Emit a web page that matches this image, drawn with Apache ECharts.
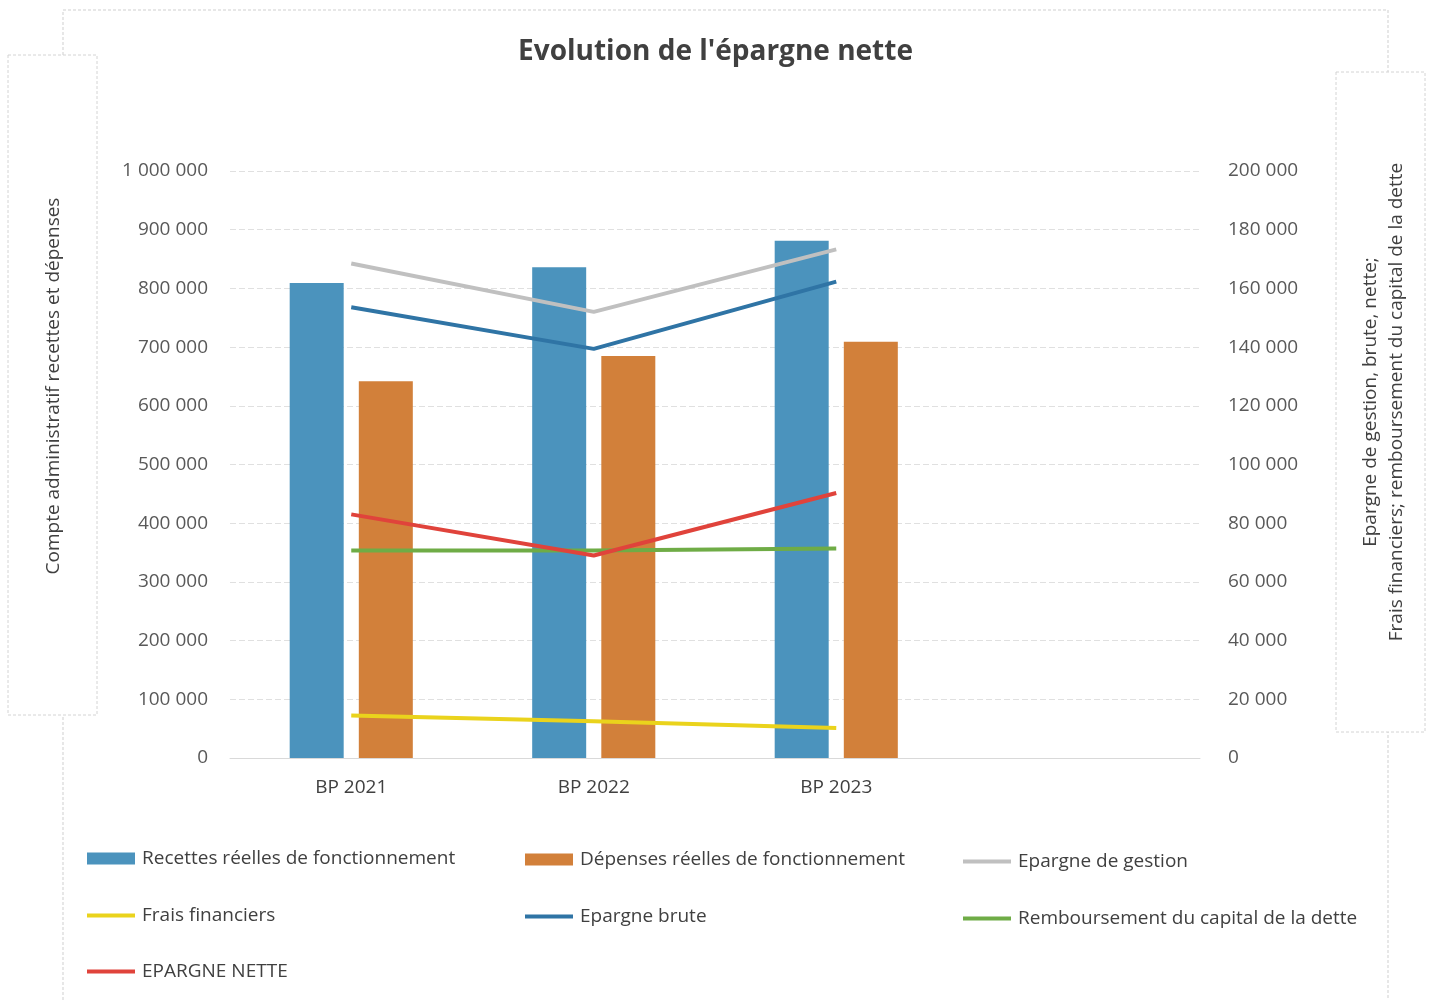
<!DOCTYPE html>
<html>
<head>
<meta charset="utf-8">
<script src="https://cdn.jsdelivr.net/npm/echarts@6/dist/echarts.min.js"></script>
<style>
html, body { margin: 0; padding: 0; background: #fff; }
#chart { width: 1431px; height: 1000px; }
</style>
</head>
<body>
<div id="chart"></div>
<script>
// catégories (la 4e reste vide, comme dans le graphique d'origine)
const categories = ['BP 2021', 'BP 2022', 'BP 2023', '']

// axe de gauche
const recettes = [809000, 836000, 881000]
const depenses = [642000, 685000, 709000]

// axe de droite
const epargneGestion = [168500, 152000, 173300]
const fraisFinanciers = [14500, 12500, 10200]
const epargneBrute = [153600, 139400, 162300]
const remboursement = [70700, 70700, 71400]
const epargneNette = [83000, 69000, 90300]

const fontFamily = '"Open Sans", "Noto Sans", sans-serif'
const txt = '#404040'

let chart = echarts.init(document.getElementById('chart'))

function fmt(v) {
    return String(v).replace(/\B(?=(\d{3})+(?!\d))/g, ' ')
}

function lineSerie(name, data, color) {
    return {
        name: name,
        type: 'line',
        yAxisIndex: 1,
        data: data,
        symbol: 'none',
        lineStyle: { color: color, width: 4 },
        itemStyle: { color: color }
    }
}

// une légende par entrée, pour placer chaque case comme dans l'original
function legendItem(name, left, top, isBar) {
    return {
        left: left,
        top: top,
        icon: 'rect',
        itemWidth: 48,
        itemHeight: isBar ? 12 : 4,
        textStyle: { color: txt, fontSize: 19, fontFamily: fontFamily, padding: [0, 0, 0, 2] },
        data: [name]
    }
}

let option = {
    animation: false,
    backgroundColor: '#fff',
    title: {
        text: "Evolution de l'épargne nette",
        left: 'center',
        top: 33,
        textStyle: { color: txt, fontSize: 28, fontWeight: 'bold', fontFamily: fontFamily }
    },
    graphic: [
        { type: 'rect', z: -10, shape: { x: 63, y: 10, width: 1325, height: 1000 },
          style: { fill: '#fff', stroke: '#cfcfcf', lineWidth: 1, lineDash: [3, 2] } },
        { type: 'rect', z: -9, shape: { x: 8, y: 55, width: 89, height: 660 },
          style: { fill: '#fff', stroke: '#d4d4d4', lineWidth: 1, lineDash: [3, 2] } },
        { type: 'rect', z: -9, shape: { x: 1336, y: 72, width: 89, height: 660 },
          style: { fill: '#fff', stroke: '#d4d4d4', lineWidth: 1, lineDash: [3, 2] } },
        { type: 'text', x: 54, y: 386, rotation: Math.PI / 2,
          style: { text: 'Compte administratif recettes et dépenses', fill: txt, fontSize: 19,
                   fontFamily: fontFamily, align: 'center', verticalAlign: 'middle' } },
        { type: 'text', x: 1384, y: 402, rotation: Math.PI / 2,
          style: { text: 'Epargne de gestion, brute, nette;\nFrais financiers; remboursement du capital de la dette',
                   fill: txt, fontSize: 19, lineHeight: 26, fontFamily: fontFamily, align: 'center', verticalAlign: 'middle' } }
    ],
    legend: [
        legendItem('Recettes réelles de fonctionnement', 82, 844, true),
        legendItem('Frais financiers', 82, 901, false),
        legendItem('EPARGNE NETTE', 82, 957, false),
        legendItem('Dépenses réelles de fonctionnement', 520, 845, true),
        legendItem('Epargne brute', 520, 902, false),
        legendItem('Epargne de gestion', 958, 847, false),
        legendItem('Remboursement du capital de la dette', 958, 904, false)
    ],
    grid: { left: 230, right: 231, top: 171, bottom: 242 },
    xAxis: {
        type: 'category',
        data: categories,
        axisTick: { show: false },
        axisLine: { lineStyle: { color: '#d9d9d9' } },
        axisLabel: { color: txt, fontSize: 19, fontFamily: fontFamily, margin: 20 }
    },
    yAxis: [
        {
            type: 'value',
            min: 0,
            max: 1000000,
            interval: 100000,
            axisLabel: { color: '#595959', fontSize: 19, fontFamily: fontFamily, margin: 22, formatter: fmt },
            axisLine: { show: false },
            axisTick: { show: false },
            splitLine: { lineStyle: { color: '#e0e0e0', type: [6, 3] } }
        },
        {
            type: 'value',
            min: 0,
            max: 200000,
            interval: 20000,
            position: 'right',
            axisLabel: { color: '#595959', fontSize: 19, fontFamily: fontFamily, margin: 28, formatter: fmt },
            axisLine: { show: false },
            axisTick: { show: false },
            splitLine: { show: false }
        }
    ],
    series: [
        {
            name: 'Recettes réelles de fonctionnement',
            type: 'bar',
            data: recettes,
            barWidth: 54,
            barGap: '28%',
            itemStyle: { color: '#4b93bd' }
        },
        {
            name: 'Dépenses réelles de fonctionnement',
            type: 'bar',
            data: depenses,
            barWidth: 54,
            itemStyle: { color: '#d2803a' }
        },
        lineSerie('Epargne de gestion', epargneGestion, '#c0c0c0'),
        lineSerie('Frais financiers', fraisFinanciers, '#ead31c'),
        lineSerie('Epargne brute', epargneBrute, '#2f74a5'),
        lineSerie('Remboursement du capital de la dette', remboursement, '#6fac46'),
        lineSerie('EPARGNE NETTE', epargneNette, '#e0433b')
    ]
}

chart.setOption(option)
window.addEventListener('resize', () => {
    chart.resize()
})
</script>
</body>
</html>
